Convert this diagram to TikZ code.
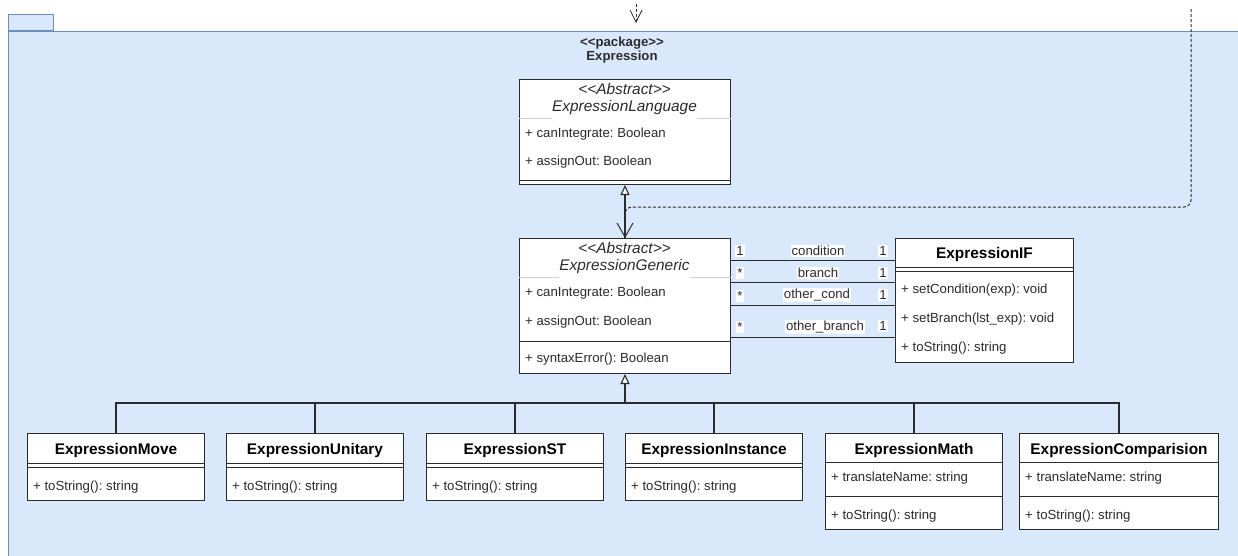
\documentclass[tikz,border=0pt]{standalone}
\usepackage{fontspec}
\setmainfont{Liberation Sans}
\usetikzlibrary{arrows.meta}
\frenchspacing

\definecolor{pkgfill}{HTML}{DAE8FC}
\definecolor{pkgline}{HTML}{6C8EBF}
\definecolor{ink}{HTML}{2B2B2B}
\definecolor{sepgray}{HTML}{CFCFCF}

\newcommand{\umlstereo}[1]{<{}<#1>{}>}

\tikzset{
  classbox/.style={draw=ink, fill=white, line width=1pt, rectangle, inner sep=0pt, anchor=north west},
  member/.style={anchor=west, inner sep=0pt, text=ink, font=\fontsize{13.2}{15}\selectfont},
  ctitle/.style={anchor=center, inner sep=0pt, text=black, font=\bfseries\fontsize{15.4}{18}\selectfont},
  aname/.style={anchor=center, inner sep=0pt, text=ink, font=\itshape\fontsize{15.4}{18}\selectfont},
  rule/.style={draw=ink, line width=1pt},
  lightrule/.style={draw=sepgray, line width=1pt},
  assoc/.style={draw=ink, line width=1pt},
  alabel/.style={fill=white, inner sep=1pt, text=ink, font=\fontsize{13.2}{15}\selectfont},
  inherit/.style={draw=ink, line width=1.1pt, -{Triangle[open, fill=white, length=10pt, width=9pt]}},
  branchline/.style={draw=ink, line width=1.1pt},
  depend/.style={draw=ink, line width=1pt, dash pattern=on 3pt off 2pt, -{Straight Barb[length=14pt, width=16pt]}},
}

% class with a title, an empty attribute part and one operation
\newcommand{\opclass}[4]{%
  \node[classbox, minimum width=#3pt, minimum height=67pt] (#1) at (#2,433) {};
  \path (#1.north) ++(0,18) node[ctitle] (#1-t) {#4};
  \draw[rule] (#1.west |- 0,463) -- (#1.east |- 0,463);
  \draw[rule] (#1.west |- 0,467) -- (#1.east |- 0,467);
  \path (#1.west |- 0,487) ++(6,0) node[member] (#1-m) {+ toString(): string};
}
% class with a title, one attribute and one operation
\newcommand{\attrclass}[4]{%
  \node[classbox, minimum width=#3pt, minimum height=96pt] (#1) at (#2,433) {};
  \path (#1.north) ++(0,18) node[ctitle] (#1-t) {#4};
  \draw[rule] (#1.west |- 0,462) -- (#1.east |- 0,462);
  \path (#1.west |- 0,478) ++(6,0) node[member] (#1-a) {+ translateName: string};
  \draw[rule] (#1.west |- 0,496) -- (#1.east |- 0,496);
  \path (#1.west |- 0,516) ++(6,0) node[member] (#1-m) {+ toString(): string};
}

\begin{document}
\begin{tikzpicture}[x=1pt, y=-1pt]
\useasboundingbox (0,0) rectangle (1238,555);

% package frame
\node[draw=pkgline, fill=pkgfill, line width=1pt, minimum width=45pt, minimum height=16pt,
      anchor=south west, inner sep=0pt] (tab) at (8,31) {};
\node[draw=pkgline, fill=pkgfill, line width=1pt, minimum width=1260pt, minimum height=560pt,
      anchor=north west, inner sep=0pt] (pkg) at (8,31) {};
\node[font=\bfseries\fontsize{13.2}{14}\selectfont, text=ink, align=center, inner sep=0pt]
  (pkgname) at (622,50) {\umlstereo{package}\\Expression};

% ExpressionLanguage
\node[classbox, minimum width=211pt, minimum height=105pt] (lang) at (519,79) {};
\draw[lightrule] (lang.west |- 0,118) -- (lang.east |- 0,118);
\node[aname, fill=white, inner xsep=0pt, inner ysep=5pt] (lang-n) at (624.5,108) {ExpressionLanguage};
\node[aname] (lang-s) at (624.5,89) {\umlstereo{Abstract}};
\path (lang.west |- 0,134) ++(6,0) node[member] (lang-a1) {+ canIntegrate: Boolean};
\path (lang.west |- 0,162) ++(6,0) node[member] (lang-a2) {+ assignOut: Boolean};
\draw[rule] (lang.west |- 0,180) -- (lang.east |- 0,180);

% ExpressionGeneric
\node[classbox, minimum width=211pt, minimum height=135pt] (gen) at (519,238) {};
\draw[lightrule] (gen.west |- 0,277) -- (gen.east |- 0,277);
\node[aname, fill=white, inner xsep=0pt, inner ysep=5pt] (gen-n) at (624.5,267) {ExpressionGeneric};
\node[aname] (gen-s) at (624.5,248) {\umlstereo{Abstract}};
\path (gen.west |- 0,293) ++(6,0) node[member] (gen-a1) {+ canIntegrate: Boolean};
\path (gen.west |- 0,322) ++(6,0) node[member] (gen-a2) {+ assignOut: Boolean};
\draw[rule] (gen.west |- 0,341) -- (gen.east |- 0,341);
\path (gen.west |- 0,359) ++(6,0) node[member] (gen-m1) {+ syntaxError(): Boolean};

% ExpressionIF
\node[classbox, minimum width=178pt, minimum height=124pt] (eif) at (895,238) {};
\path (eif.north) ++(0,17) node[ctitle] (eif-t) {ExpressionIF};
\draw[rule] (eif.west |- 0,267) -- (eif.east |- 0,267);
\draw[rule] (eif.west |- 0,271) -- (eif.east |- 0,271);
\path (eif.west |- 0,290) ++(6,0) node[member] (eif-m1) {+ setCondition(exp): void};
\path (eif.west |- 0,319) ++(6,0) node[member] (eif-m2) {+ setBranch(lst\_exp): void};
\path (eif.west |- 0,348) ++(6,0) node[member] (eif-m3) {+ toString(): string};

% associations between ExpressionGeneric and ExpressionIF
\draw[assoc] (gen.east |- 0,260) -- (eif.west |- 0,260);
\draw[assoc] (gen.east |- 0,282) -- (eif.west |- 0,282);
\draw[assoc] (gen.east |- 0,305) -- (eif.west |- 0,305);
\draw[assoc] (gen.east |- 0,337) -- (eif.west |- 0,337);
\node[alabel] (l1a) at (740,251) {1};
\node[alabel] (l1b) at (818,251) {condition};
\node[alabel] (l1c) at (883,251) {1};
\node[alabel] (l2a) at (740,273) {*};
\node[alabel] (l2b) at (818,273) {branch};
\node[alabel] (l2c) at (883,273) {1};
\node[alabel] (l3a) at (740,296) {*};
\node[alabel] (l3b) at (817,295) {other\_cond};
\node[alabel] (l3c) at (883,295) {1};
\node[alabel] (l4a) at (740,327) {*};
\node[alabel] (l4b) at (825,327) {other\_branch};
\node[alabel] (l4c) at (883,326) {1};

% dependencies
\coordinate (depsrc) at (1191,9);
\draw[depend, rounded corners=7pt] (depsrc) |- (625,207) -- (gen.north);
\coordinate (topsrc) at (636,4);
\coordinate (toptip) at (636,23);
\draw[depend, line width=0.8pt, -{Straight Barb[length=12pt, width=12pt]}] (topsrc) -- (toptip);

% generalization to ExpressionLanguage
\draw[inherit] (gen.north) -- (lang.south);

% concrete expressions
\opclass{mv}{27}{177}{ExpressionMove}
\opclass{un}{226}{177}{ExpressionUnitary}
\opclass{st}{426}{177}{ExpressionST}
\opclass{ins}{625}{177}{ExpressionInstance}
\attrclass{mth}{825}{177}{ExpressionMath}
\attrclass{cmp}{1019}{199}{ExpressionComparision}

% generalization tree to ExpressionGeneric
\coordinate (bus) at (625,403);
\foreach \c in {mv,un,st,ins,mth,cmp}
  \draw[branchline] (\c.north) |- (bus);
\draw[inherit] (bus) -- (gen.south);
\end{tikzpicture}
\end{document}
